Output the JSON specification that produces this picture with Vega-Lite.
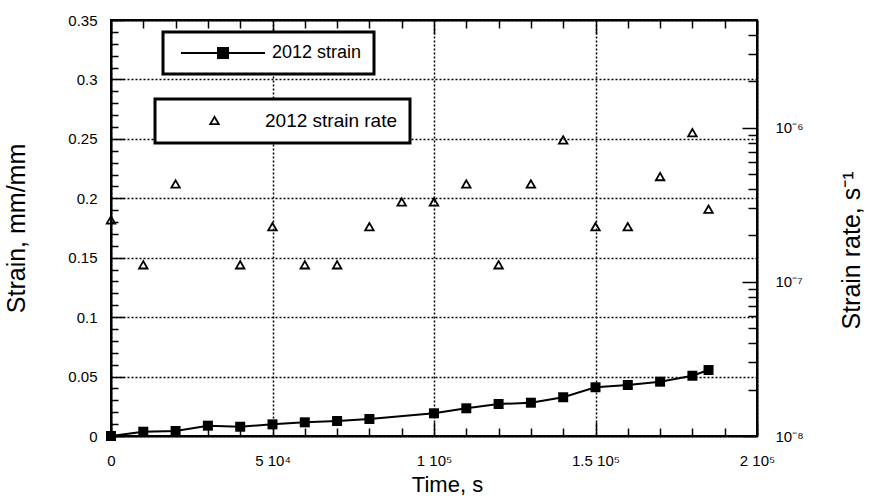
{
  "$schema": "https://vega.github.io/schema/vega-lite/v6.json",
  "width": 646,
  "height": 416,
  "autosize": {"type": "none"},
  "padding": {"left": 111, "top": 20, "right": 114, "bottom": 66},
  "background": "white",
  "config": {
    "font": "Liberation Sans",
    "view": {"stroke": "black", "strokeWidth": 2},
    "axis": {
      "domainColor": "black",
      "domainWidth": 2,
      "tickColor": "black",
      "tickWidth": 1.5,
      "labelColor": "black",
      "labelFont": "Liberation Sans",
      "labelFontSize": 15,
      "titleColor": "black",
      "titleFont": "Liberation Sans",
      "titleFontWeight": "normal",
      "gridColor": "black",
      "gridDash": [2, 2],
      "gridWidth": 1.5,
      "labelFlush": false,
      "labelOverlap": false
    },
    "legend": {"labelFont": "Liberation Sans", "labelColor": "black", "strokeWidth": 3}
  },
  "datasets": {
    "strain": [
      {"time": 0, "strain": 0},
      {"time": 10000, "strain": 0.0036},
      {"time": 20000, "strain": 0.0042},
      {"time": 30000, "strain": 0.0087},
      {"time": 40000, "strain": 0.0078},
      {"time": 50000, "strain": 0.0098},
      {"time": 60000, "strain": 0.0115},
      {"time": 70000, "strain": 0.0126},
      {"time": 80000, "strain": 0.0143},
      {"time": 100000, "strain": 0.0191},
      {"time": 110000, "strain": 0.0233},
      {"time": 120000, "strain": 0.0269},
      {"time": 130000, "strain": 0.028},
      {"time": 140000, "strain": 0.0326},
      {"time": 150000, "strain": 0.041},
      {"time": 160000, "strain": 0.0429},
      {"time": 170000, "strain": 0.0457},
      {"time": 180000, "strain": 0.0507},
      {"time": 185000, "strain": 0.0555}
    ],
    "rate": [
      {"time": 0, "rate": 2.52e-7},
      {"time": 10000, "rate": 1.29e-7},
      {"time": 20000, "rate": 4.32e-7},
      {"time": 40000, "rate": 1.29e-7},
      {"time": 50000, "rate": 2.28e-7},
      {"time": 60000, "rate": 1.29e-7},
      {"time": 70000, "rate": 1.29e-7},
      {"time": 80000, "rate": 2.28e-7},
      {"time": 90000, "rate": 3.3e-7},
      {"time": 100000, "rate": 3.3e-7},
      {"time": 110000, "rate": 4.32e-7},
      {"time": 120000, "rate": 1.29e-7},
      {"time": 130000, "rate": 4.32e-7},
      {"time": 140000, "rate": 8.33e-7},
      {"time": 150000, "rate": 2.28e-7},
      {"time": 160000, "rate": 2.28e-7},
      {"time": 170000, "rate": 4.82e-7},
      {"time": 180000, "rate": 9.29e-7},
      {"time": 185000, "rate": 2.96e-7}
    ]
  },
  "layer": [
    {
      "data": {"name": "strain"},
      "mark": {"type": "line", "strokeWidth": 2, "color": "black"},
      "encoding": {
        "x": {
          "field": "time",
          "type": "quantitative",
          "scale": {"domain": [0, 200000], "nice": false},
          "axis": {
            "orient": "bottom",
            "values": [0, 50000, 100000, 150000, 200000],
            "labelExpr": "datum.value === 0 ? '0' : datum.value === 50000 ? '5 10⁴' : datum.value === 100000 ? '1 10⁵' : datum.value === 150000 ? '1.5 10⁵' : '2 10⁵'",
            "labelPadding": 31,
            "tickSize": -14,
            "grid": true,
            "title": "Time, s",
            "titleFontSize": 22,
            "titlePadding": 6,
            "titleX": 336
          }
        },
        "y": {
          "field": "strain",
          "type": "quantitative",
          "scale": {"domain": [0, 0.35], "nice": false},
          "axis": {
            "orient": "left",
            "values": [0, 0.05, 0.1, 0.15, 0.2, 0.25, 0.3, 0.35],
            "labelExpr": "'' + round(datum.value * 100) / 100",
            "labelPadding": 27,
            "tickSize": -13,
            "grid": true,
            "title": "Strain, mm/mm",
            "titleFontSize": 25,
            "titlePadding": 38
          }
        }
      }
    },
    {
      "data": {"name": "strain"},
      "mark": {"type": "point", "shape": "square", "size": 100, "filled": true, "opacity": 1},
      "encoding": {
        "x": {
          "field": "time",
          "type": "quantitative",
          "scale": {"domain": [0, 200000], "nice": false},
          "axis": {
            "orient": "bottom",
            "values": [10000, 20000, 30000, 40000, 60000, 70000, 80000, 90000, 110000, 120000, 130000, 140000, 160000, 170000, 180000, 190000],
            "labels": false,
            "tickSize": -8,
            "domain": false,
            "grid": false,
            "title": null
          }
        },
        "y": {
          "field": "strain",
          "type": "quantitative",
          "scale": {"domain": [0, 0.35], "nice": false},
          "axis": {
            "orient": "left",
            "values": [0.01, 0.02, 0.03, 0.04, 0.06, 0.07, 0.08, 0.09, 0.11, 0.12, 0.13, 0.14, 0.16, 0.17, 0.18, 0.19, 0.21, 0.22, 0.23, 0.24, 0.26, 0.27, 0.28, 0.29, 0.31, 0.32, 0.33, 0.34],
            "labels": false,
            "tickSize": -7,
            "domain": false,
            "grid": false,
            "title": null
          }
        },
        "color": {
          "datum": "2012 strain",
          "type": "nominal",
          "scale": {"range": ["black"]},
          "legend": {
            "orient": "none",
            "legendX": 52,
            "legendY": 12,
            "title": null,
            "symbolType": "M-8.4,0H8.4M-1,-1H1V1H-1Z",
            "symbolSize": 100,
            "symbolStrokeWidth": 2,
            "symbolFillColor": "black",
            "symbolStrokeColor": "black",
            "symbolOffset": 39,
            "labelOffset": 40,
            "labelFontSize": 18,
            "padding": 12,
            "fillColor": "white",
            "strokeColor": "black",
            "encode": {"legend": {"update": {"strokeWidth": {"value": 3}}}}
          }
        }
      }
    },
    {
      "data": {"name": "rate"},
      "mark": {"type": "point", "filled": false, "stroke": "black", "strokeWidth": 1.8, "size": 72, "opacity": 1},
      "encoding": {
        "x": {
          "field": "time",
          "type": "quantitative",
          "scale": {"domain": [0, 200000], "nice": false},
          "axis": {
            "orient": "top",
            "values": [0, 50000, 100000, 150000, 200000],
            "labels": false,
            "tickSize": -14,
            "grid": false,
            "title": null
          }
        },
        "y": {
          "field": "rate",
          "type": "quantitative",
          "scale": {"type": "log", "domain": [1e-8, 5e-6], "nice": false},
          "axis": {
            "orient": "right",
            "values": [1e-8, 1e-7, 1e-6],
            "labelExpr": "datum.value < 5e-8 ? '10⁻⁸' : datum.value < 5e-7 ? '10⁻⁷' : '10⁻⁶'",
            "labelPadding": 33,
            "tickSize": -15,
            "grid": false,
            "title": "Strain rate, s⁻¹",
            "titleFontSize": 25,
            "titleAngle": -90,
            "titleBaseline": "top",
            "titlePadding": 36,
            "titleY": 230
          }
        },
        "shape": {
          "datum": "2012 strain rate",
          "type": "nominal",
          "scale": {"range": ["triangle-up"]},
          "legend": {
            "orient": "none",
            "legendX": 44,
            "legendY": 79,
            "title": null,
            "symbolType": "triangle-up",
            "symbolSize": 72,
            "symbolStrokeWidth": 1.8,
            "symbolFillColor": "transparent",
            "symbolStrokeColor": "black",
            "symbolOffset": 38,
            "labelOffset": 41,
            "labelFontSize": 19,
            "padding": 12,
            "fillColor": "white",
            "strokeColor": "black",
            "encode": {"legend": {"update": {"strokeWidth": {"value": 3}}}}
          }
        }
      }
    },
    {
      "data": {"name": "rate"},
      "mark": {"type": "point", "opacity": 0},
      "encoding": {
        "x": {
          "field": "time",
          "type": "quantitative",
          "scale": {"domain": [0, 200000], "nice": false},
          "axis": {
            "orient": "top",
            "values": [10000, 20000, 30000, 40000, 60000, 70000, 80000, 90000, 110000, 120000, 130000, 140000, 160000, 170000, 180000, 190000],
            "labels": false,
            "tickSize": -8,
            "domain": false,
            "grid": false,
            "title": null
          }
        },
        "y": {
          "field": "rate",
          "type": "quantitative",
          "scale": {"type": "log", "domain": [1e-8, 5e-6], "nice": false},
          "axis": {
            "orient": "right",
            "values": [2e-8, 3e-8, 4e-8, 5e-8, 6e-8, 7e-8, 8e-8, 9e-8, 2e-7, 3e-7, 4e-7, 5e-7, 6e-7, 7e-7, 8e-7, 9e-7, 2e-6, 3e-6, 4e-6],
            "labels": false,
            "tickSize": -9,
            "domain": false,
            "grid": false,
            "title": null
          }
        }
      }
    }
  ],
  "resolve": {
    "scale": {"y": "independent"},
    "axis": {"x": "independent", "y": "independent"}
  }
}
